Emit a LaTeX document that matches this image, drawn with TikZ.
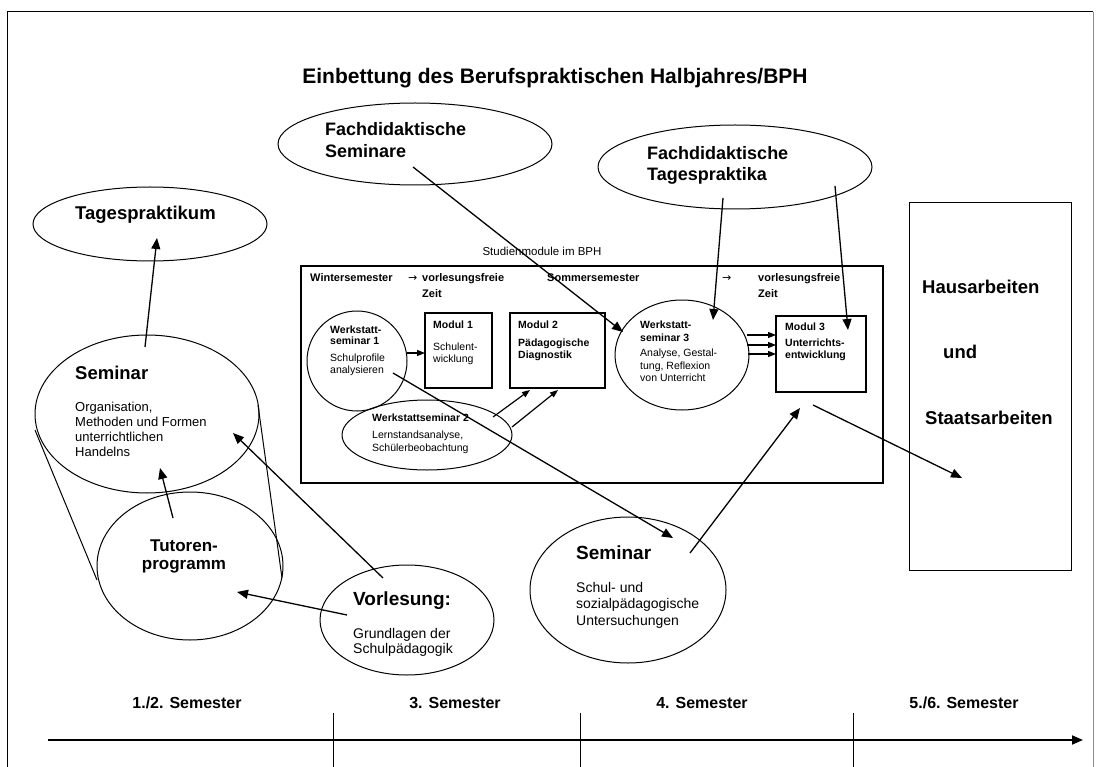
\documentclass[tikz,border=0pt]{standalone}
\usepackage{fontspec}
\setmainfont{Liberation Sans}
\newfontfamily\djv{DejaVu Sans}
\usetikzlibrary{shapes.geometric,arrows.meta}
\newcommand{\fsz}[2]{\fontsize{#1}{#2}\selectfont}
\newcommand{\mlL}[1]{\vtop{\halign{##\hfil\cr#1\crcr}}}
\newcommand{\mlC}[1]{\vtop{\halign{\hfil##\hfil\cr#1\crcr}}}
\begin{document}
\begin{tikzpicture}[x=1pt,y=-1pt,
  ell/.style={draw, ellipse, line width=1pt, inner sep=0pt},
  bx/.style={draw, rectangle, line width=1.3pt, inner sep=0pt},
  arr/.style={-{Triangle[length=11pt,width=9pt]}, line width=1.3pt},
  sarr/.style={-{Triangle[length=8pt,width=6pt]}, line width=1.2pt},
  tx/.style={anchor=base west, inner sep=0pt},
  tc/.style={anchor=base, inner sep=0pt}]
\useasboundingbox (0,0) rectangle (1097,767);
\fill[white] (0,0) rectangle (1097,767);
% frame
\draw[line width=1pt] (7,767) -- (7,12) -- (1093,12);
\draw[line width=0.6pt, black!45] (1093,12) -- (1093,767);
% title
\node[tc] (title) at (555,84) {\fsz{21}{25}\bfseries Einbettung des Berufspraktischen Halbjahres/BPH};

% ---------- left column ----------
\node[ell, minimum width=234pt, minimum height=74pt] (tagp) at (150,224) {};
\node[tx] (tagpT) at (75,219.5) {\fsz{18.5}{22}\bfseries Tagespraktikum};

\node[ell, minimum width=224pt, minimum height=158pt] (sem1) at (147,414) {};
\node[tx] (sem1T) at (75,379.5) {\fsz{18.5}{22}\bfseries Seminar};
\node[tx] (sem1B) at (75,411.5) {\fsz{13}{15}\mlL{Organisation,\cr Methoden und Formen\cr unterrichtlichen\cr Handelns}};

\node[ell, minimum width=186pt, minimum height=148pt] (tut) at (190,566) {};
\node[tc] (tutT) at (184,551) {\fsz{17}{18}\bfseries\mlC{Tutoren-\cr programm}};

\coordinate (cylL1) at (35,430);
\coordinate (cylL2) at (97,580);
\coordinate (cylR1) at (258,405);
\coordinate (cylR2) at (282,578);
\draw[line width=1pt] (cylL1) -- (cylL2);
\draw[line width=1pt] (cylR1) -- (cylR2);

\node[ell, minimum width=174pt, minimum height=110pt] (vor) at (407,620) {};
\node[tx] (vorT) at (353,605.5) {\fsz{19}{22}\bfseries Vorlesung:};
\node[tx] (vorB) at (353,638) {\fsz{14}{15.5}\mlL{Grundlagen der\cr Schulpädagogik}};

% ---------- top ellipses ----------
\node[ell, minimum width=274pt, minimum height=82pt] (fsem) at (415,144) {};
\node[tx] (fsemT) at (325,135.5) {\fsz{18}{22.5}\bfseries\mlL{Fachdidaktische\cr Seminare}};

\node[ell, minimum width=274pt, minimum height=84pt] (ftag) at (735,167) {};
\node[tx] (ftagT) at (647,159.5) {\fsz{18}{21}\bfseries\mlL{Fachdidaktische\cr Tagespraktika}};

% ---------- Studienmodule box ----------
\node[tc] (stud) at (542,256) {\fsz{11.5}{13}Studienmodule im BPH};
\node[draw, line width=2.8pt, rectangle, inner sep=0pt, minimum width=582pt, minimum height=217pt] (sbox) at (592,374.5) {};

\node[tx] (h1) at (310,282) {\fsz{11}{15}\bfseries Wintersemester};
\node[tx] (h2) at (408,282) {\fsz{11}{15}\djv →};
\node[tx] (h3) at (422,282) {\fsz{11}{15}\bfseries\mlL{vorlesungsfreie\cr Zeit}};
\node[tx] (h4) at (547,282) {\fsz{11}{15}\bfseries Sommersemester};
\node[tx] (h5) at (722,282) {\fsz{11}{15}\djv →};
\node[tx] (h6) at (758,282) {\fsz{11}{15}\bfseries\mlL{vorlesungsfreie\cr Zeit}};

\node[ell, minimum width=100pt, minimum height=100pt] (ws1) at (357,361) {};
\node[tx] (ws1T) at (330,333.7) {\fsz{10.5}{11}\bfseries\mlL{Werkstatt-\cr seminar 1}};
\node[tx] (ws1B) at (330,361.7) {\fsz{10.5}{12}\mlL{Schulprofile\cr analysieren}};

\node[bx, minimum width=67pt, minimum height=75pt] (m1) at (458.5,350.5) {};
\node[tx] (m1T) at (433,328.7) {\fsz{10.5}{12}\bfseries Modul 1};
\node[tx] (m1B) at (433,350.7) {\fsz{10.5}{11.5}\mlL{Schulent-\cr wicklung}};

\node[bx, minimum width=95pt, minimum height=75pt] (m2) at (557.5,350.5) {};
\node[tx] (m2T) at (518,328.7) {\fsz{10.5}{12}\bfseries Modul 2};
\node[tx] (m2B) at (518,346.7) {\fsz{10.5}{12}\bfseries\mlL{Pädagogische\cr Diagnostik}};

\node[ell, minimum width=170pt, minimum height=70pt] (ws2) at (427,435) {};
\node[tx] (ws2T) at (372,421.7) {\fsz{10.5}{12}\bfseries Werkstattseminar 2};
\node[tx] (ws2B) at (372,438.7) {\fsz{10.5}{13}\mlL{Lernstandsanalyse,\cr Schülerbeobachtung}};

\node[ell, minimum width=134pt, minimum height=110pt] (ws3) at (682,355) {};
\node[tx] (ws3T) at (640,328.7) {\fsz{10.5}{13}\bfseries\mlL{Werkstatt-\cr seminar 3}};
\node[tx] (ws3B) at (640,356.7) {\fsz{10.5}{12.5}\mlL{Analyse, Gestal-\cr tung, Reflexion\cr von Unterricht}};

\node[bx, minimum width=90pt, minimum height=76pt] (m3) at (821,354) {};
\node[tx] (m3T) at (785,330.7) {\fsz{10.5}{12}\bfseries Modul 3};
\node[tx] (m3B) at (785,346.7) {\fsz{10.5}{12}\bfseries\mlL{Unterrichts-\cr entwicklung}};

% ---------- bottom seminar ----------
\node[ell, minimum width=196pt, minimum height=146pt] (sem2) at (628,590) {};
\node[tx] (sem2T) at (576,559.5) {\fsz{19}{22}\bfseries Seminar};
\node[tx] (sem2B) at (576,592) {\fsz{14}{16.5}\mlL{Schul- und\cr sozialpädagogische\cr Untersuchungen}};

% ---------- Hausarbeiten ----------
\node[draw, line width=1pt, rectangle, inner sep=0pt, minimum width=162pt, minimum height=367pt] (haus) at (990,386.5) {};
\node[tx] (haus1) at (922,293.5) {\fsz{18.5}{22}\bfseries Hausarbeiten};
\node[tx] (haus2) at (943,358.5) {\fsz{18.5}{22}\bfseries und};
\node[tx] (haus3) at (925,424.5) {\fsz{18.5}{22}\bfseries Staatsarbeiten};

% ---------- connector coordinates ----------
\coordinate (a1s) at (145,347);  \coordinate (a1e) at (157,238);
\coordinate (a2s) at (173,518);  \coordinate (a2e) at (160,468);
\coordinate (a3s) at (383,578);  \coordinate (a3e) at (233,433);
\coordinate (a4s) at (347,615);  \coordinate (a4e) at (237,592);
\coordinate (a5s) at (413,167);  \coordinate (a5e) at (623,332);
\coordinate (a6s) at (723,198);  \coordinate (a6e) at (713,320);
\coordinate (a7s) at (835,186);  \coordinate (a7e) at (848,330);
\coordinate (a8s) at (393,373);  \coordinate (a8e) at (673,538);
\coordinate (a9s) at (690,553);  \coordinate (a9e) at (800,408);
\coordinate (a10s) at (813,405); \coordinate (a10e) at (962,478);
\coordinate (b1s) at (407,353);  \coordinate (b1e) at (425,353);
\coordinate (b2s) at (493,417);  \coordinate (b2e) at (530,390);
\coordinate (b3s) at (512,427);  \coordinate (b3e) at (558,390);
\coordinate (c1s) at (747,335);  \coordinate (c1e) at (776,335);
\coordinate (c2s) at (747,345);  \coordinate (c2e) at (776,345);
\coordinate (c3s) at (748,354);  \coordinate (c3e) at (776,354);

\draw[arr] (a1s) -- (a1e);
\draw[arr] (a2s) -- (a2e);
\draw[arr] (a3s) -- (a3e);
\draw[arr] (a4s) -- (a4e);
\draw[arr] (a5s) -- (a5e);
\draw[arr] (a6s) -- (a6e);
\draw[arr] (a7s) -- (a7e);
\draw[arr] (a8s) -- (a8e);
\draw[arr] (a9s) -- (a9e);
\draw[arr] (a10s) -- (a10e);
\draw[sarr] (b1s) -- (b1e);
\draw[sarr] (b2s) -- (b2e);
\draw[sarr] (b3s) -- (b3e);
\draw[sarr] (c1s) -- (c1e);
\draw[sarr] (c2s) -- (c2e);
\draw[sarr] (c3s) -- (c3e);

% ---------- timeline ----------
\coordinate (tl0) at (48,740);
\coordinate (tl1) at (1083,740);
\draw[line width=1.8pt, -{Triangle[length=11pt,width=9pt]}] (tl0) -- (tl1);
\coordinate (t1a) at (333,713); \coordinate (t1b) at (333,767);
\coordinate (t2a) at (580,713); \coordinate (t2b) at (580,767);
\coordinate (t3a) at (853,713); \coordinate (t3b) at (853,767);
\draw[line width=0.8pt] (t1a) -- (t1b);
\draw[line width=0.8pt] (t2a) -- (t2b);
\draw[line width=0.8pt] (t3a) -- (t3b);
\node[tc] (s12) at (187,708.6) {\fsz{16}{18}\bfseries 1./2. Semester};
\node[tc] (s3) at (455,708.6) {\fsz{16}{18}\bfseries 3. Semester};
\node[tc] (s4) at (702,708.6) {\fsz{16}{18}\bfseries 4. Semester};
\node[tc] (s56) at (964,708.6) {\fsz{16}{18}\bfseries 5./6. Semester};
\end{tikzpicture}
\end{document}
